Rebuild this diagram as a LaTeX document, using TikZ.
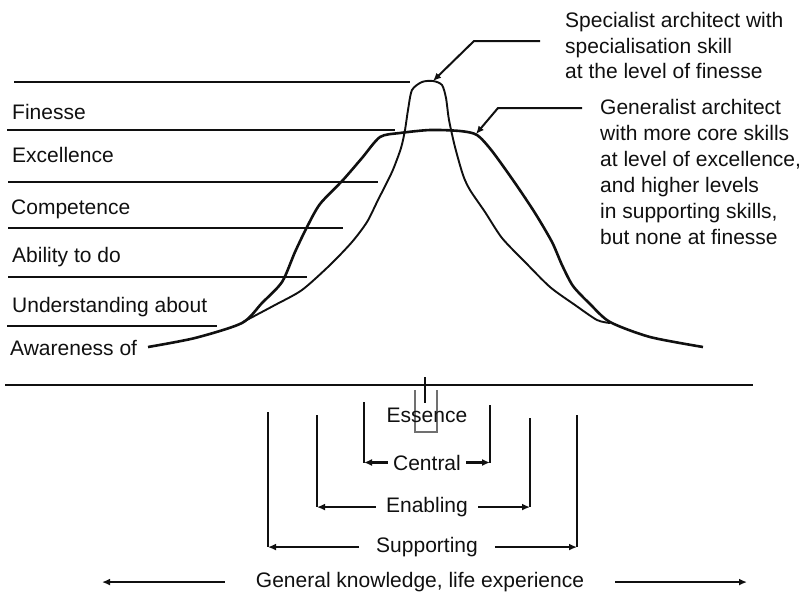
\documentclass[tikz,border=0pt]{standalone}
\usepackage{fontspec}
\setmainfont{Liberation Sans}
\usetikzlibrary{arrows.meta}
\definecolor{ink}{HTML}{101010}
\begin{document}
\begin{tikzpicture}[x=1pt,y=-1pt,
  txt/.style={font=\fontsize{21}{25.5}\selectfont, text=ink, inner sep=0pt},
  lvl/.style={line width=2.5pt, draw=ink},
  gcurve/.style={line width=2.6pt, draw=ink, line join=round},
  scurve/.style={line width=1.9pt, draw=ink, line join=round},
  brk/.style={line width=2.5pt, draw=ink},
  arr/.style={line width=2.5pt, draw=ink, -{Latex[length=8pt,width=7pt]}},
  lead/.style={line width=2pt, draw=ink, -{Latex[length=8pt,width=7pt]}},
  span/.style={txt, anchor=base, inner ysep=0pt}
]
\useasboundingbox (0,0) rectangle (804,595);

% skill level lines
\draw[lvl] (14,82) -- (410,82);
\draw[lvl] (7,130) -- (395,130);
\draw[lvl] (8,182) -- (378,182);
\draw[lvl] (8,228) -- (343,228);
\draw[lvl] (8,277) -- (307,277);
\draw[lvl] (7,326) -- (217,326);

% skill level names
\node[txt, anchor=base west] (finesse)    at (12,119.5) {Finesse};
\node[txt, anchor=base west] (excellence) at (12,162.5) {Excellence};
\node[txt, anchor=base west] (competence) at (11,214.5) {Competence};
\node[txt, anchor=base west] (ability)    at (12,262)   {Ability to do};
\node[txt, anchor=base west] (understand) at (12,312.5) {Understanding about};
\node[txt, anchor=base west] (awareness)  at (10,355.5) {Awareness of};

% generalist profile
\draw[gcurve] plot[smooth, tension=0.45] coordinates {
  (148,347) (195,338) (242,323) (262,303) (282,282) (295,252) (307,227)
  (320,204) (343,180) (362,158) (380,137) (400,133) (430,130) (460,131)
  (477,135) (492,151) (515,183) (535,213) (552,242) (562,265) (573,286)
  (590,304) (610,322) (650,337) (703,347)};

% specialist profile
\draw[scurve] plot[smooth, tension=0.45] coordinates {
  (243,322) (275,305) (302,290) (330,265) (352,242) (367,222) (378,200)
  (392,172) (401,148) (405,130) (408,110) (412,90) (422,82) (433,81)
  (442,85) (446,98) (449,120) (455,147) (463,175) (470,190) (485,212)
  (502,238) (525,262) (550,287) (575,305) (597,320) (610,323)};

% annotations
\node[txt, anchor=north west, align=left] (spec) at (565,12.5)
  {Specialist architect with\\specialisation skill\\at the level of finesse};
\node[txt, anchor=north west, align=left,
  font=\fontsize{21}{26}\selectfont] (gen) at (600,99.5)
  {Generalist architect\\with more core skills\\at level of excellence,\\and higher levels\\in supporting skills,\\but none at finesse};

\coordinate (specKnee) at (474,41);
\coordinate (specTip)  at (433,81);
\coordinate (genKnee)  at (498,108);
\coordinate (genTip)   at (476,134);
\draw[lead] ([xshift=-25pt,yshift=-28.5pt]spec.north west) -- (specKnee) -- (specTip);
\draw[lead] ([xshift=-18pt,yshift=-8.5pt]gen.north west) -- (genKnee) -- (genTip);

% baseline of general knowledge
\draw[line width=2.6pt, draw=ink] (5,385) -- (753,385);
\draw[line width=1.1pt, draw=ink!60] (415,390) -- (415,432) -- (437,432) -- (437,390);
\draw[line width=2.2pt, draw=ink] (425,377) -- (425,403);

% skill categories
\node[txt, anchor=base] (essence) at (427,422.5) {Essence};
\node[span, inner xsep=5pt]  (central)    at (427,470)   {Central};
\node[span, inner xsep=10pt] (enabling)   at (427,512.5) {Enabling};
\node[span, inner xsep=17pt] (supporting) at (427,552.5) {Supporting};
\node[span, inner xsep=31pt] (general)    at (420,587.5) {General knowledge, life experience};

\coordinate (cL) at (364,402);
\coordinate (cR) at (490,405);
\coordinate (eL) at (317,415);
\coordinate (eR) at (530,418);
\coordinate (sL) at (268,412);
\coordinate (sR) at (577,415);
\coordinate (gL) at (102,580);
\coordinate (gR) at (747,580);

\draw[brk] (cL) -- (central.west -| cL);
\draw[brk] (cR) -- (central.east -| cR);
\draw[arr] (central.west) -- (central.west -| cL);
\draw[arr] (central.east) -- (central.east -| cR);

\draw[brk] (eL) -- (enabling.west -| eL);
\draw[brk] (eR) -- (enabling.east -| eR);
\draw[arr] (enabling.west) -- (enabling.west -| eL);
\draw[arr] (enabling.east) -- (enabling.east -| eR);

\draw[brk] (sL) -- (supporting.west -| sL);
\draw[brk] (sR) -- (supporting.east -| sR);
\draw[arr] (supporting.west) -- (supporting.west -| sL);
\draw[arr] (supporting.east) -- (supporting.east -| sR);

\draw[arr] (general.west) -- (general.west -| gL);
\draw[arr] (general.east) -- (general.east -| gR);
\end{tikzpicture}
\end{document}
